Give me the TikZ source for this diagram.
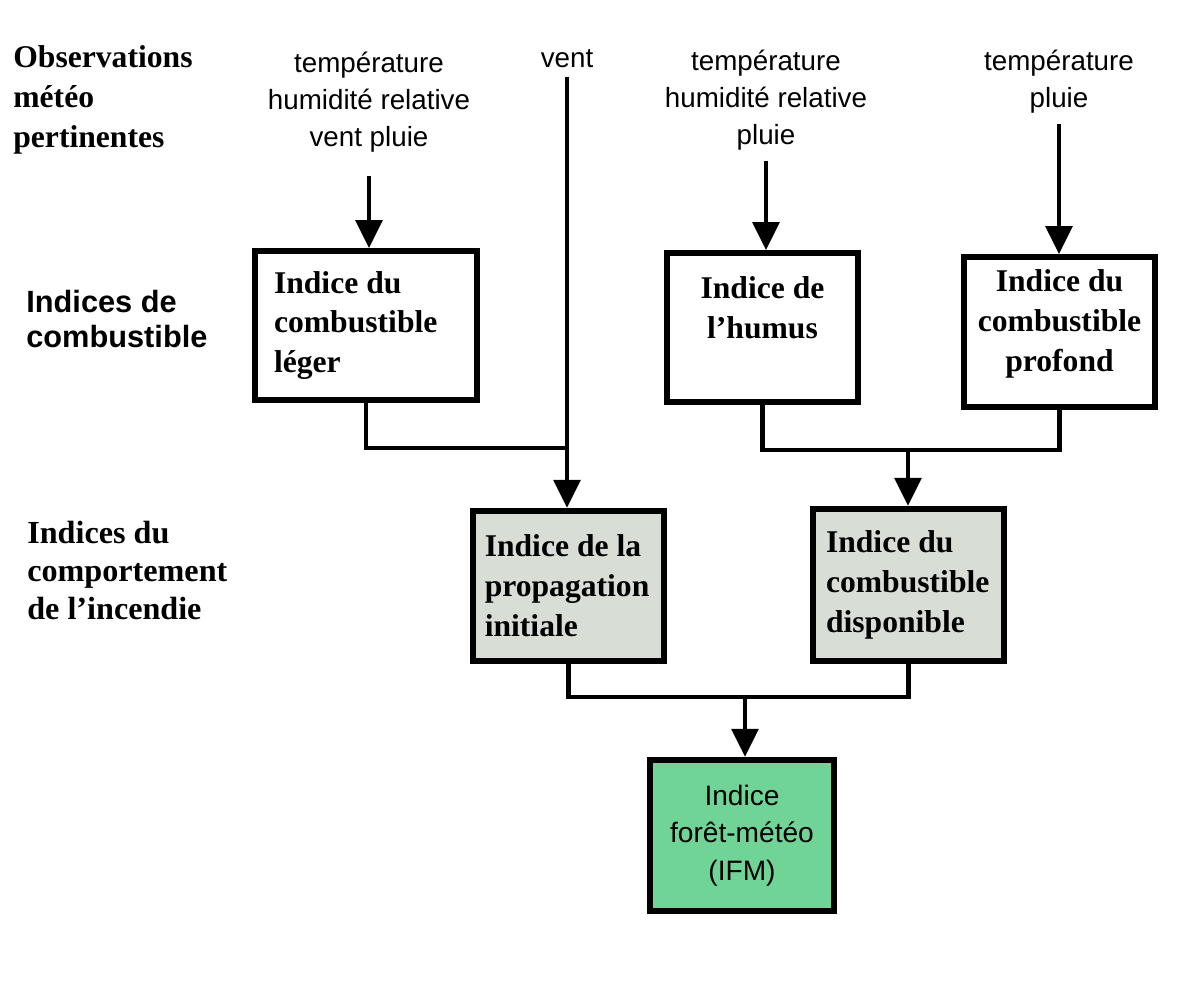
\documentclass[tikz,border=0pt]{standalone}
\usepackage{fontspec}
\setmainfont{Liberation Serif}
\setsansfont{Liberation Sans}
\usetikzlibrary{arrows.meta}
\definecolor{boxgray}{RGB}{216,221,214}
\definecolor{ifmgreen}{RGB}{111,212,150}

\begin{document}
\begin{tikzpicture}[x=0.02cm,y=-0.02cm,
    box/.style={draw,line width=3.2pt,inner ysep=0pt,
      font=\fontsize{18}{22.7}\selectfont\bfseries},
    wire/.style={line width=2.8pt},
    arr/.style={wire,-{Triangle[width=15pt,length=16pt]}},
    obs/.style={font=\sffamily\fontsize{15.8}{21}\selectfont,align=center,inner sep=0pt},
    rowlab/.style={anchor=north west,align=left,inner sep=0pt}]
    \useasboundingbox (0,0) rectangle (1200,981);

    % Row labels on the left
    \node[rowlab,font=\fontsize{18}{22.7}\selectfont\bfseries] (obslab) at (13,45)
      {Observations\\météo\\pertinentes};
    \node[rowlab,font=\sffamily\fontsize{17.5}{20}\selectfont\bfseries] (comblab) at (26,290)
      {Indices de\\combustible};
    \node[rowlab,font=\fontsize{18.3}{21.5}\selectfont\bfseries] (comportlab) at (27,521)
      {Indices du\\comportement\\de l'incendie};

    % Weather inputs
    \node[obs,anchor=north] (in1) at (369,52) {température\\humidité relative\\vent pluie};
    \node[obs,anchor=north] (vent) at (567,49) {vent};
    \node[obs,anchor=north] (in2) at (766,50) {température\\humidité relative\\pluie};
    \node[obs,anchor=north] (in3) at (1059,50) {température\\pluie};

    % Fuel moisture codes
    \node[box,minimum width=4.44cm,minimum height=2.98cm,inner xsep=0.38cm,
      text width=3.68cm,align=flush left] (leger) at (366,325.5)
      {Indice du\\combustible\\léger};
    \node[box,minimum width=3.82cm,minimum height=2.98cm,align=center] (humus) at (762.5,327.5)
      {Indice de\\l'humus\\\mbox{}};
    \node[box,minimum width=3.82cm,minimum height=3.0cm,align=center] (profond) at (1059.5,332)
      {Indice du\\combustible\\profond\\[-0.35cm]\mbox{}};

    % Fire behaviour indices
    \node[box,fill=boxgray,minimum width=3.82cm,minimum height=3.01cm,inner xsep=0.235cm,
      text width=3.35cm,align=flush left] (prop) at (568.5,586)
      {Indice de la\\propagation\\initiale};
    \node[box,fill=boxgray,minimum width=3.82cm,minimum height=3.05cm,inner xsep=0.26cm,
      text width=3.3cm,align=flush left] (dispo) at (908.5,585)
      {Indice du\\combustible\\disponible};

    % Fire weather index
    \node[box,fill=ifmgreen,minimum width=3.68cm,minimum height=3.03cm,align=center,
      font=\sffamily\fontsize{16}{21.5}\selectfont] (ifm) at (742,835.5)
      {Indice\\forêt-météo\\(IFM)};

    % Junctions
    \coordinate (jL) at (vent.south |- 0,448);
    \coordinate (jR) at (908,450);
    \coordinate (jB) at (745,697);

    % Connectors
    \draw[arr,shorten <=13pt] (in1.south) -- (in1.south |- leger.north);
    \draw[arr,shorten <=5pt] (vent.south) -- (vent.south |- prop.north);
    \draw[arr,shorten <=6pt] (in2.south) -- (in2.south |- humus.north);
    \draw[arr,shorten <=6pt] (in3.south) -- (in3.south |- profond.north);
    \draw[wire] (leger.south) |- (jL);
    \draw[wire] (humus.south) |- (jR) -| (profond.south);
    \draw[arr] (jR) -- (jR |- dispo.north);
    \draw[wire] (prop.south) |- (jB) -| (dispo.south);
    \draw[arr] (jB) -- (jB |- ifm.north);
\end{tikzpicture}
\end{document}
